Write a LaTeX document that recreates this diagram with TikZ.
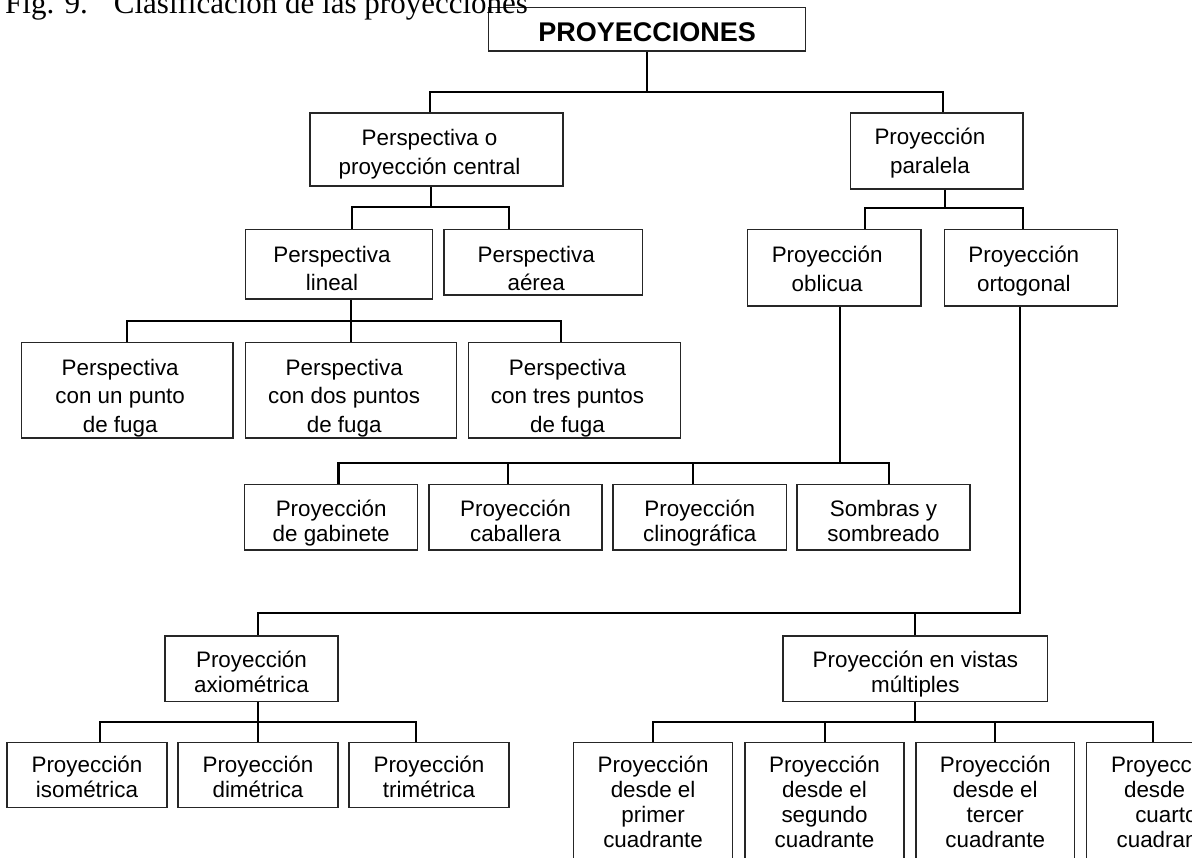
\documentclass[tikz,border=0pt]{standalone}
\usepackage{fontspec}
\setmainfont{Liberation Sans}
\newfontfamily\figfont{Liberation Serif}
\newcommand{\texto}[2][14pt]{\begin{tabular}[t]{@{}c@{\hspace{#1}}}#2\end{tabular}}

\begin{document}
\begin{tikzpicture}[x=1pt,y=-1pt,
	caja/.style={draw=black!85,line width=1.2pt,inner sep=0pt,text height=17pt,text depth=#1,
		font=\fontsize{22.4}{28.5}\selectfont},
	caja/.default=24pt,
	cajab/.style={caja=#1,font=\fontsize{22.4}{25}\selectfont},
	cajab/.default=20pt,
	enlace/.style={line width=2pt},
	bus/.style={line width=2.8pt}]

	\useasboundingbox (0,0) rectangle (1192,858);

	% proyecciones
	\node[draw=black!85,line width=1.2pt,inner sep=0pt,minimum width=317pt,minimum height=43.7pt,text height=25pt,text depth=0pt,font=\bfseries\fontsize{27}{27}\selectfont] (proy) at (647.2,29.2) {PROYECCIONES};

	% central y paralela
	\node[caja=24.6pt,minimum width=253pt,minimum height=73pt] (central) at (436.5,149.5) {\texto{Perspectiva o\\proyección central}};
	\node[caja=29pt,minimum width=172.3pt,minimum height=76pt] (paralela) at (936.9,151) {\texto{Proyección\\paralela}};
	\coordinate (b1) at (647,92.3);
	\draw[enlace] (proy.south) -- (proy.south |- b1);
	\draw[enlace] ([xshift=-6.5pt]central.north) |- (b1) -| ([xshift=6pt]paralela.north);

	% lineal y aerea
	\node[caja=21pt,minimum width=186.6pt,minimum height=69.7pt] (lineal) at (339,264.2) {\texto{Perspectiva\\lineal}};
	\node[caja=17pt,minimum width=198.3pt,minimum height=65.7pt] (aerea) at (543.2,262.2) {\texto{Perspectiva\\aérea}};
	\coordinate (b2) at (431,207.5);
	\draw[enlace] ([xshift=-5.5pt]central.south) -- ([xshift=-5.5pt]central.south |- b2);
	\draw[enlace] ([xshift=12.7pt]lineal.north) |- (b2) -| ([xshift=-33.9pt]aerea.north);

	% oblicua y ortogonal
	\node[caja=26.9pt,minimum width=173.7pt,minimum height=76.7pt] (oblicua) at (834.2,267.6) {\texto{Proyección\\oblicua}};
	\node[caja=26.9pt,minimum width=173pt,minimum height=76.7pt] (ortogonal) at (1030.8,267.6) {\texto{Proyección\\ortogonal}};
	\coordinate (b3) at (944.7,208);
	\draw[enlace] ([xshift=7.7pt]paralela.south) -- ([xshift=7.7pt]paralela.south |- b3);
	\draw[enlace] ([xshift=31pt]oblicua.north) |- (b3) -| ([xshift=-8pt]ortogonal.north);

	% puntos de fuga
	\node[caja=47.7pt,minimum width=211.6pt,minimum height=95.3pt] (punto1) at (127.2,390.4) {\texto{Perspectiva\\con un punto\\de fuga}};
	\node[caja=47.7pt,minimum width=211pt,minimum height=95.3pt] (punto2) at (351.2,390.4) {\texto{Perspectiva\\con dos puntos\\de fuga}};
	\node[caja=47.7pt,minimum width=212.4pt,minimum height=95.3pt] (punto3) at (574.5,390.4) {\texto{Perspectiva\\con tres puntos\\de fuga}};
	\coordinate (b4) at (351,321);
	\draw[enlace] ([xshift=12pt]lineal.south) -- (b4);
	\draw[enlace] (punto1.north) |- (b4) -| ([xshift=-13.5pt]punto3.north);
	\draw[enlace] (punto2.north) -- (punto2.north |- b4);

	% hijos de oblicua
	\node[cajab=19.3pt,minimum width=173pt,minimum height=65.7pt] (gabinete) at (331.2,517.2) {\texto[0pt]{Proyección\\de gabinete}};
	\node[cajab=19.3pt,minimum width=173pt,minimum height=65.7pt] (caballera) at (515.5,517.2) {\texto[0pt]{Proyección\\caballera}};
	\node[cajab=19.3pt,minimum width=173.5pt,minimum height=65.7pt] (clino) at (699.8,517.2) {\texto[0pt]{Proyección\\clinográfica}};
	\node[cajab=19.3pt,minimum width=173pt,minimum height=65.7pt] (sombras) at (883.5,517.2) {\texto[0pt]{Sombras y\\sombreado}};
	\coordinate (b5) at (840,463);
	\draw[enlace] ([xshift=5.8pt]oblicua.south) -- ([xshift=5.8pt]oblicua.south |- b5);
	\draw[bus] ([xshift=7pt]gabinete.north) |- (b5) -| ([xshift=5.5pt]sombras.north);
	\draw[enlace] ([xshift=-7.8pt]caballera.north) -- ([xshift=-7.8pt]caballera.north |- b5);
	\draw[enlace] ([xshift=-6.8pt]clino.north) -- ([xshift=-6.8pt]clino.north |- b5);

	% hijos de ortogonal
	\node[cajab=20.1pt,minimum width=173pt,minimum height=65.7pt] (axio) at (251.5,668.9) {\texto[0pt]{Proyección\\axiométrica}};
	\node[cajab=20.1pt,minimum width=264.7pt,minimum height=65.7pt] (multiples) at (915.4,668.9) {\texto[0pt]{Proyección en vistas\\múltiples}};
	\coordinate (b6) at (1019.5,612.7);
	\draw[enlace] ([xshift=-11.3pt]ortogonal.south) -- (b6) -| ([xshift=6.5pt]axio.north);
	\draw[enlace] (multiples.north) -- (multiples.north |- b6);

	% axiometrica
	\node[cajab=22.8pt,minimum width=160.1pt,minimum height=65pt] (iso) at (87,775.2) {\texto[0pt]{Proyección\\isométrica}};
	\node[cajab=22.8pt,minimum width=160pt,minimum height=65pt] (dim) at (258,775.2) {\texto[0pt]{Proyección\\dimétrica}};
	\node[cajab=22.8pt,minimum width=160pt,minimum height=65pt] (tri) at (429,775.2) {\texto[0pt]{Proyección\\trimétrica}};
	\coordinate (b7) at (258,722);
	\draw[enlace] ([xshift=6.5pt]axio.south) -- (b7);
	\draw[enlace] ([xshift=13pt]iso.north) |- (b7) -| ([xshift=-13pt]tri.north);
	\draw[enlace] (dim.north) -- (dim.north |- b7);

	% vistas multiples
	\node[cajab=77pt,minimum width=158.8pt,minimum height=120pt] (primer) at (653.1,802.7) {\texto[0pt]{Proyección\\desde el\\primer\\cuadrante}};
	\node[cajab=77pt,minimum width=159pt,minimum height=120pt] (segundo) at (824.5,802.7) {\texto[0pt]{Proyección\\desde el\\segundo\\cuadrante}};
	\node[cajab=77pt,minimum width=158.7pt,minimum height=120pt] (tercero) at (995.3,802.7) {\texto[0pt]{Proyección\\desde el\\tercer\\cuadrante}};
	\node[cajab=77pt,minimum width=159.2pt,minimum height=120pt] (cuarto) at (1166.4,802.7) {\texto[0pt]{Proyección\\desde el\\cuarto\\cuadrante}};
	\coordinate (b8) at (915.4,722);
	\draw[enlace] (multiples.south) -- (b8);
	\draw[enlace] (primer.north) |- (b8) -| ([xshift=-13.4pt]cuarto.north);
	\draw[enlace] (segundo.north) -- (segundo.north |- b8);
	\draw[enlace] (tercero.north) -- (tercero.north |- b8);

	% titulo de la figura
	\node[anchor=base west,inner sep=0pt,font=\figfont\fontsize{31}{31}\selectfont] (fig) at (5,13.3) {Fig. 9.\hspace{26pt}Clasificación de las proyecciones};

\end{tikzpicture}
\end{document}
